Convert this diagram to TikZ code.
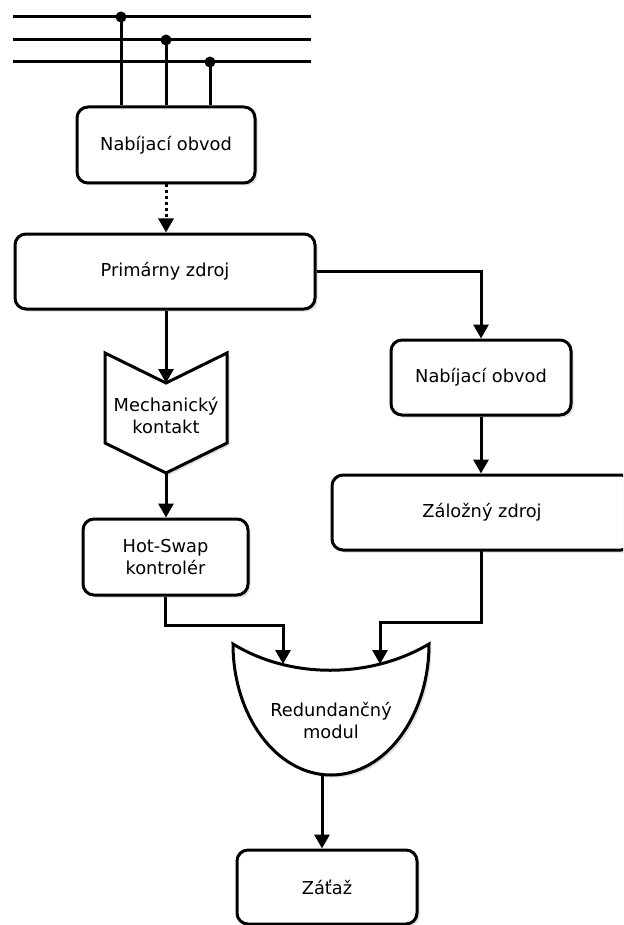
\documentclass[tikz,border=0pt]{standalone}
\usepackage{fontspec}
\setmainfont{DejaVu Sans}
\usetikzlibrary{arrows.meta,shadows,positioning}
\begin{document}
\begin{tikzpicture}[x=1pt,y=-1pt,
  line width=3pt,
  shade/.style={drop shadow={opacity=0.25,shadow xshift=2.5pt,shadow yshift=-2.5pt}},
  box/.style={draw,fill=white,rounded corners=11pt,shade,line width=3pt,
    inner sep=0pt,align=center,font=\fontsize{17.8}{22}\selectfont},
  lbl/.style={align=center,font=\fontsize{17.8}{22}\selectfont,inner sep=0pt},
  arr/.style={-{Triangle[width=15pt,length=14pt]}},
  dotb/.style={circle,fill=black,inner sep=0pt,minimum size=11pt}]
\useasboundingbox (0,0) rectangle (623,925);
\clip (0,0) rectangle (623,925);
% bus lines
\coordinate (b1l) at (13,17); \coordinate (b1r) at (311,17);
\coordinate (b2l) at (13,40); \coordinate (b2r) at (311,40);
\coordinate (b3l) at (13,62); \coordinate (b3r) at (311,62);
\draw (b1l) -- (b1r);
\draw (b2l) -- (b2r);
\draw (b3l) -- (b3r);
% boxes
\node[box,minimum width=178pt,minimum height=76pt] (nab1) at (166,145) {Nabíjací obvod};
\node[box,minimum width=300pt,minimum height=75pt] (prim) at (165,271.5) {Primárny zdroj};
\node[box,minimum width=180pt,minimum height=75pt] (nab2) at (481,377.5) {Nabíjací obvod};
\node[box,minimum width=300pt,minimum height=75pt] (zal) at (482,512.5) {Záložný zdroj};
\node[box,minimum width=165pt,minimum height=76pt] (hot) at (165.5,557) {Hot-Swap\\kontrolér};
\node[box,minimum width=180pt,minimum height=74pt] (zat) at (327,887) {Záťaž};
% junction dots
\node[dotb] (d1) at (121,17) {};
\node[dotb] (d2) at (166,40) {};
\node[dotb] (d3) at (210,62) {};
\draw (d1.center) -- (d1.center |- nab1.north);
\draw (d2.center) -- (d2.center |- nab1.north);
\draw (d3.center) -- (d3.center |- nab1.north);
% mechanical contact chevron
\draw[fill=white,shade,line join=miter] (105,353) -- (166,383) coordinate (mtop) -- (227,353) -- (227,443) -- (166,473) coordinate (mbot) -- (105,443) -- cycle;
\node[lbl] (mech) at (166,416) {Mechanický\\kontakt};
% redundant module
\draw[fill=white,shade] (233,644) .. controls (290,679) and (370,679) .. (429,644)
  arc[start angle=0,end angle=180,x radius=98,y radius=131] -- cycle;
\node[lbl] (red) at (331,720) {Redundančný\\modul};
\coordinate (rin1) at (283,664);
\coordinate (rin2) at (380,664);
\coordinate (rout) at (322,775);
% connectors
\draw[arr,dash pattern=on 3pt off 3pt] (nab1.south) -- (nab1.south |- prim.north);
\draw[arr] (prim.east) -| (nab2.north);
\draw[arr] (nab2.south) -- (nab2.south |- zal.north);
\draw[arr] (prim.south -| mtop) -- (mtop);
\draw[arr] (mbot) -- (mbot |- hot.north);
\draw[arr] (hot.south) |- (283,625) -- (rin1);
\draw[arr] (481,550) |- (380,622) -- (rin2);
\draw[arr] (rout) -- (rout |- zat.north);
\end{tikzpicture}
\end{document}
